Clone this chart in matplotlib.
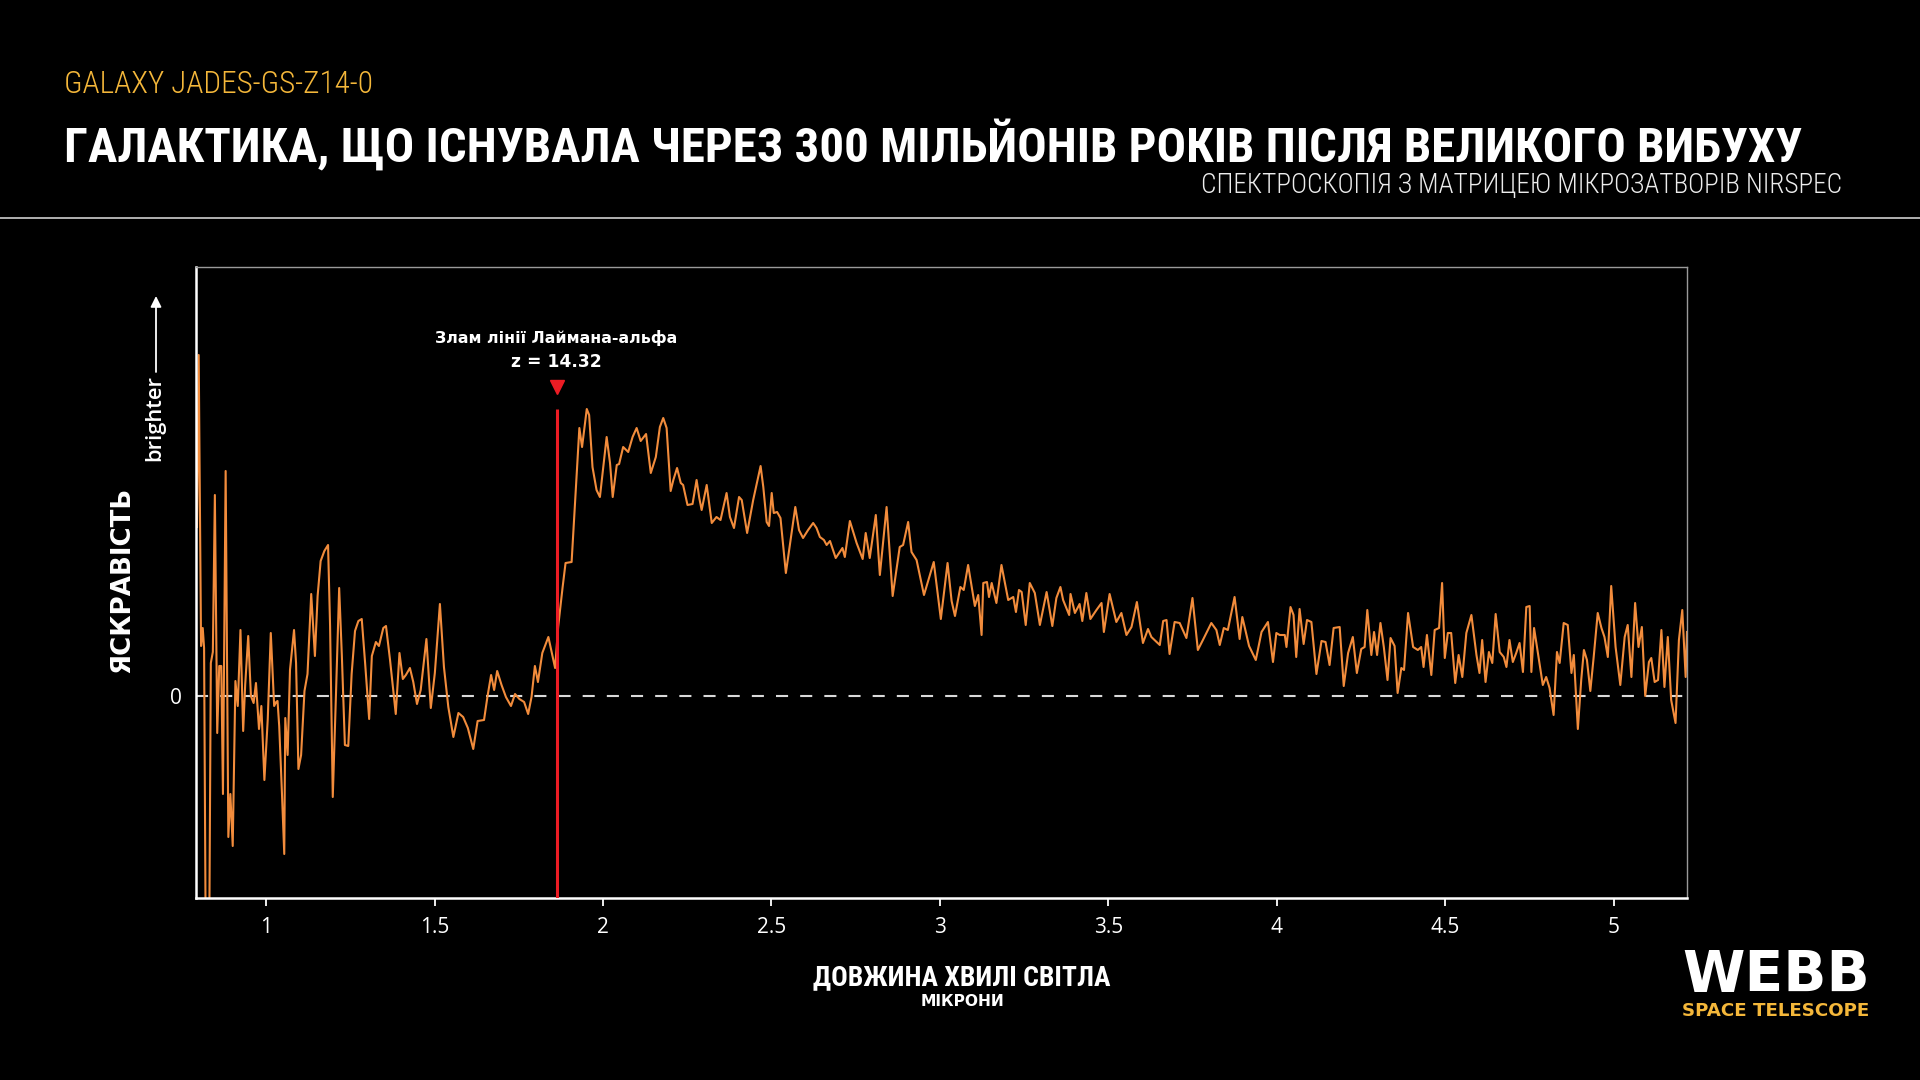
import matplotlib
matplotlib.use('Agg')
import matplotlib.pyplot as plt
from matplotlib import font_manager
from matplotlib.lines import Line2D
import numpy as np

# spectrum: wavelength (microns) and brightness (arbitrary units)
wavelength = [
    0.795, 0.800, 0.807, 0.812, 0.816, 0.822, 0.830, 0.836, 0.842, 0.848,
    0.855, 0.861, 0.867, 0.872, 0.880, 0.888, 0.894, 0.901, 0.909, 0.916,
    0.924, 0.932, 0.938, 0.947, 0.955, 0.963, 0.970, 0.979, 0.986, 0.995,
    1.005, 1.014, 1.024, 1.030, 1.034, 1.039, 1.047, 1.054, 1.057, 1.064,
    1.071, 1.083, 1.089, 1.096, 1.104, 1.114, 1.123, 1.134, 1.145, 1.153,
    1.162, 1.173, 1.184, 1.190, 1.198, 1.207, 1.217, 1.225, 1.234, 1.244,
    1.254, 1.264, 1.274, 1.284, 1.294, 1.306, 1.314, 1.326, 1.335, 1.348,
    1.356, 1.368, 1.385, 1.396, 1.406, 1.415, 1.427, 1.437, 1.448, 1.459,
    1.476, 1.489, 1.501, 1.516, 1.528, 1.541, 1.556, 1.571, 1.585, 1.599,
    1.615, 1.628, 1.647, 1.657, 1.668, 1.677, 1.686, 1.699, 1.712, 1.727,
    1.739, 1.752, 1.766, 1.778, 1.788, 1.798, 1.807, 1.820, 1.838, 1.858,
    1.867, 1.880, 1.889, 1.907, 1.930, 1.938, 1.952, 1.959, 1.969, 1.981,
    1.991, 2.011, 2.021, 2.029, 2.041, 2.048, 2.060, 2.075, 2.088, 2.100,
    2.112, 2.128, 2.142, 2.157, 2.169, 2.179, 2.189, 2.201, 2.209, 2.220,
    2.231, 2.238, 2.251, 2.266, 2.278, 2.286, 2.293, 2.308, 2.323, 2.337,
    2.349, 2.367, 2.377, 2.389, 2.404, 2.412, 2.428, 2.446, 2.468, 2.476,
    2.486, 2.493, 2.501, 2.507, 2.517, 2.527, 2.543, 2.557, 2.571, 2.582,
    2.594, 2.609, 2.624, 2.634, 2.644, 2.656, 2.664, 2.674, 2.691, 2.711,
    2.718, 2.733, 2.753, 2.771, 2.780, 2.792, 2.810, 2.822, 2.842, 2.860,
    2.881, 2.891, 2.906, 2.916, 2.931, 2.953, 2.982, 3.003, 3.023, 3.035,
    3.045, 3.061, 3.071, 3.084, 3.104, 3.114, 3.124, 3.129, 3.140, 3.146,
    3.154, 3.168, 3.183, 3.203, 3.218, 3.226, 3.235, 3.243, 3.255, 3.267,
    3.282, 3.297, 3.317, 3.334, 3.346, 3.358, 3.366, 3.384, 3.388, 3.401,
    3.415, 3.423, 3.435, 3.447, 3.465, 3.480, 3.487, 3.504, 3.524, 3.539,
    3.554, 3.569, 3.585, 3.603, 3.618, 3.628, 3.653, 3.663, 3.673, 3.682,
    3.697, 3.712, 3.732, 3.750, 3.766, 3.781, 3.806, 3.821, 3.831, 3.843,
    3.855, 3.875, 3.890, 3.898, 3.918, 3.938, 3.955, 3.974, 3.989, 3.999,
    4.009, 4.024, 4.029, 4.041, 4.050, 4.058, 4.068, 4.080, 4.090, 4.103,
    4.118, 4.133, 4.145, 4.157, 4.169, 4.187, 4.199, 4.212, 4.226, 4.238,
    4.251, 4.261, 4.269, 4.281, 4.289, 4.298, 4.308, 4.318, 4.329, 4.338,
    4.350, 4.359, 4.370, 4.378, 4.390, 4.405, 4.419, 4.429, 4.436, 4.446,
    4.459, 4.469, 4.482, 4.491, 4.499, 4.508, 4.518, 4.530, 4.540, 4.551,
    4.563, 4.578, 4.593, 4.602, 4.610, 4.620, 4.630, 4.640, 4.650, 4.662,
    4.674, 4.682, 4.691, 4.701, 4.711, 4.721, 4.731, 4.741, 4.751, 4.756,
    4.764, 4.775, 4.790, 4.800, 4.810, 4.822, 4.832, 4.840, 4.852, 4.864,
    4.875, 4.882, 4.894, 4.904, 4.912, 4.921, 4.931, 4.941, 4.953, 4.964,
    4.973, 4.983, 4.993, 5.006, 5.020, 5.033, 5.042, 5.053, 5.064, 5.074,
    5.084, 5.094, 5.105, 5.112, 5.122, 5.132, 5.142, 5.151, 5.161, 5.171,
    5.184, 5.194, 5.204, 5.214, 5.218,
]
brightness = [
    16.9, 34.1, 5.0, 6.8, 4.8, -32.0, -32.0, 3.3, 4.4, 20.1,
    -3.7, 3.0, 3.0, -9.8, 22.5, -14.1, -9.8, -15.0, 1.5, -1.0,
    6.6, -3.5, 1.1, 6.0, 0.0, -0.7, 1.3, -3.3, -1.0, -8.4,
    -2.3, 6.3, -1.0, -0.6, -0.5, -3.0, -9.6, -15.8, -2.2, -5.9,
    2.6, 6.6, 3.3, -7.3, -5.9, 0.5, 2.2, 10.2, 4.0, 10.0,
    13.5, 14.5, 15.1, 7.0, -10.1, -0.4, 10.8, 4.0, -4.9, -5.0,
    2.2, 6.5, 7.5, 7.7, 3.3, -2.3, 4.0, 5.4, 5.0, 6.8,
    7.0, 3.6, -1.8, 4.3, 1.7, 2.1, 2.8, 1.4, -0.8, 0.6,
    5.7, -1.2, 2.3, 9.2, 2.9, -1.1, -4.1, -1.7, -2.1, -3.2,
    -5.3, -2.5, -2.4, -0.1, 2.1, 0.6, 2.5, 1.1, -0.1, -1.0,
    0.2, -0.3, -0.6, -1.8, -0.1, 3.0, 1.4, 4.3, 5.9, 2.8,
    6.9, 10.8, 13.3, 13.4, 26.8, 24.9, 28.7, 28.1, 22.9, 20.6,
    19.9, 25.9, 23.3, 19.9, 23.1, 23.2, 24.9, 24.4, 25.9, 26.8,
    25.5, 26.2, 22.3, 23.9, 26.9, 27.8, 26.8, 20.5, 21.6, 22.8,
    21.3, 21.1, 19.1, 19.2, 21.6, 19.8, 18.6, 21.1, 17.3, 17.9,
    17.6, 20.3, 17.9, 16.8, 19.9, 19.6, 16.3, 19.6, 23.0, 20.9,
    17.4, 17.0, 20.3, 18.3, 18.4, 17.8, 12.3, 15.6, 18.9, 16.6,
    15.8, 16.6, 17.3, 16.8, 15.9, 15.6, 15.1, 15.5, 13.8, 14.8,
    13.9, 17.5, 15.3, 13.7, 16.3, 13.8, 18.1, 12.1, 18.9, 10.0,
    14.9, 15.1, 17.4, 14.4, 13.6, 10.1, 13.4, 7.7, 13.3, 9.5,
    8.0, 10.9, 10.6, 13.1, 9.0, 10.1, 6.1, 11.3, 11.4, 9.9,
    11.3, 9.3, 13.1, 9.6, 9.9, 8.4, 10.6, 10.4, 7.1, 11.3,
    10.3, 7.1, 10.4, 7.0, 9.8, 10.9, 9.6, 8.1, 10.2, 8.3,
    9.2, 7.5, 10.3, 7.7, 8.6, 9.3, 6.4, 10.2, 7.4, 8.3,
    6.1, 6.9, 9.4, 5.3, 6.7, 5.9, 5.1, 7.5, 7.6, 4.2,
    7.4, 7.3, 5.8, 9.8, 4.6, 5.6, 7.3, 6.6, 5.1, 6.8,
    6.6, 9.9, 5.7, 7.9, 5.0, 3.6, 6.4, 7.4, 3.4, 6.3,
    6.1, 6.1, 4.9, 8.9, 8.1, 3.9, 8.7, 5.2, 7.6, 7.4,
    2.2, 5.5, 5.4, 3.1, 6.8, 6.9, 1.0, 4.3, 5.9, 2.3,
    4.7, 4.9, 8.6, 4.1, 6.4, 4.1, 7.3, 4.9, 1.6, 5.8,
    5.0, 0.3, 2.8, 2.6, 8.3, 4.9, 4.6, 4.9, 2.9, 6.1,
    2.1, 6.6, 6.8, 11.3, 3.8, 6.3, 6.3, 1.3, 4.1, 1.9,
    6.3, 8.1, 4.1, 2.3, 5.6, 1.4, 4.4, 3.3, 8.2, 4.4,
    3.9, 2.9, 5.6, 3.4, 4.3, 5.3, 2.4, 8.9, 9.0, 2.4,
    6.8, 4.4, 1.1, 1.9, 0.8, -1.9, 4.4, 3.3, 7.3, 7.1,
    2.3, 4.1, -3.3, 1.6, 4.6, 3.6, 0.5, 3.9, 8.3, 6.8,
    5.9, 3.9, 11.0, 4.9, 1.1, 5.9, 7.1, 1.9, 9.3, 4.9,
    6.9, 0.0, 3.4, 3.8, 1.4, 1.6, 6.6, 0.9, 5.9, -0.4,
    -2.7, 5.6, 8.6, 1.9, 6.4,
]

x_ticks = [1, 1.5, 2, 2.5, 3, 3.5, 4, 4.5, 5]
x_labels = ['1', '1.5', '2', '2.5', '3', '3.5', '4', '4.5', '5']

redshift = 14.32
lya_rest = 0.121567            # microns
lya_obs = lya_rest * (1 + redshift)
break_top = 28.7               # where the red marker line ends
marker_y = 30.9

ORANGE = '#f28c3c'
RED = '#ec1c24'
YELLOW = '#f4b73a'
W, H = 1920, 1080

# pick a condensed face for the headline type if one is installed
names = {f.name for f in font_manager.fontManager.ttflist}
COND = 'DejaVu Sans'
for n in ['Roboto Condensed', 'Liberation Sans Narrow', 'Open Sans Condensed', 'DejaVu Sans Condensed']:
    if n in names:
        COND = n
        break
LIGHT = 'Open Sans' if 'Open Sans' in names else 'DejaVu Sans'

fig = plt.figure(figsize=(W / 100, H / 100), dpi=100, facecolor='black')
ax = fig.add_axes([196 / W, 1 - 898 / H, (1687 - 196) / W, (898 - 267) / H])
ax.set_facecolor('black')

ax.axhline(0, color='#d9d9d9', lw=1.5, dashes=(5.8, 5.8), zorder=1)
ax.plot(wavelength, brightness, color=ORANGE, lw=1.5, zorder=2, solid_joinstyle='round')

ax.set_xlim(0.792, 5.218)
ax.set_ylim(-20.2, 42.9)
ymin = ax.get_ylim()[0]
ax.plot([lya_obs, lya_obs], [ymin, break_top], color=RED, lw=2.2, zorder=3, solid_capstyle='butt')
ax.plot([lya_obs], [marker_y], marker='v', color=RED, markersize=10, zorder=3)

ax.text(lya_obs, 35.25, 'Злам лінії Лаймана-альфа', color='white', fontsize=12,
        fontweight='bold', ha='center', va='baseline', family='DejaVu Sans')
ax.text(lya_obs, 32.9, 'z = 14.32', color='white', fontsize=12,
        fontweight='bold', ha='center', va='baseline', family='DejaVu Sans')

for s in ['left', 'bottom']:
    ax.spines[s].set_color('white')
    ax.spines[s].set_linewidth(1.8)
for s in ['top', 'right']:
    ax.spines[s].set_color('#9a9a9a')
    ax.spines[s].set_linewidth(1.0)

ax.set_xticks(x_ticks)
ax.set_xticklabels(x_labels, family=LIGHT)
ax.tick_params(axis='x', colors='white', labelcolor='white', labelsize=15,
               direction='out', length=6, width=1.3, pad=8)
ax.set_yticks([0])
ax.set_yticklabels(['0'], family=LIGHT)
ax.tick_params(axis='y', colors='white', labelcolor='white', labelsize=15, length=0, pad=10)

def fx(x):
    return x / W

def fy(y):
    return 1 - y / H

renderer = fig.canvas.get_renderer()

def fit(t, target, along='w'):
    bb = t.get_window_extent(renderer)
    cur = bb.width if along == 'w' else bb.height
    t.set_fontsize(t.get_fontsize() * target / cur)

# header
t1 = fig.text(fx(64), fy(93), 'GALAXY JADES-GS-Z14-0', color=YELLOW, fontsize=26, fontweight='light',
              family=COND, fontstretch='condensed', ha='left', va='baseline')
fit(t1, 310)
t2 = fig.text(fx(64), fy(162), 'ГАЛАКТИКА, ЩО ІСНУВАЛА ЧЕРЕЗ 300 МІЛЬЙОНІВ РОКІВ ПІСЛЯ ВЕЛИКОГО ВИБУХУ',
              color='white', fontsize=40, fontweight='bold', family=COND, fontstretch='condensed',
              ha='left', va='baseline')
fit(t2, 1738)
t3 = fig.text(fx(1842), fy(193), 'СПЕКТРОСКОПІЯ З МАТРИЦЕЮ МІКРОЗАТВОРІВ NIRSPEC', color='#ececec',
              fontsize=16, fontweight='light', family=COND, fontstretch='condensed',
              ha='right', va='baseline')
fit(t3, 643)
fig.add_artist(Line2D([0, 1], [fy(218), fy(218)], color='#cfcfcf', lw=1.2))

# annotation widths
for t, w in zip(ax.texts, [240, 90]):
    fit(t, w)

# axis titles
yl = fig.text(fx(122), fy(580), 'ЯСКРАВІСТЬ', color='white', fontsize=20, fontweight='bold',
              rotation=90, ha='center', va='center', family='DejaVu Sans')
fit(yl, 186, 'h')
br = fig.text(fx(155), fy(418), 'brighter', color='white', fontsize=14, fontweight='semibold',
              rotation=90, ha='center', va='center', family=LIGHT)
fit(br, 87, 'h')
fig.add_artist(plt.Annotation('', xy=(fx(156), fy(296)), xytext=(fx(156), fy(372)),
                              xycoords='figure fraction', textcoords='figure fraction',
                              arrowprops=dict(arrowstyle='-|>', color='white', lw=1.3,
                                              mutation_scale=16, shrinkA=0, shrinkB=0)))

xl = fig.text(fx(962), fy(985), 'ДОВЖИНА ХВИЛІ СВІТЛА', color='white', fontsize=20, fontweight='bold',
              family=COND, fontstretch='condensed', ha='center', va='baseline')
fit(xl, 297)
xu = fig.text(fx(962), fy(1006), 'МІКРОНИ', color='white', fontsize=11, fontweight='bold',
              family='DejaVu Sans', ha='center', va='baseline')
fit(xu, 84)

# logo
wb = fig.text(fx(1682), fy(992), 'WEBB', color='white', fontsize=34, fontweight='heavy',
              family='DejaVu Sans', fontstretch='expanded', ha='left', va='baseline')
fit(wb, 188)
st = fig.text(fx(1682), fy(1016), 'SPACE TELESCOPE', color=YELLOW, fontsize=12, fontweight='bold',
              family='DejaVu Sans', ha='left', va='baseline')
fit(st, 188)

fig.savefig('out.png', dpi=100, facecolor='black')
